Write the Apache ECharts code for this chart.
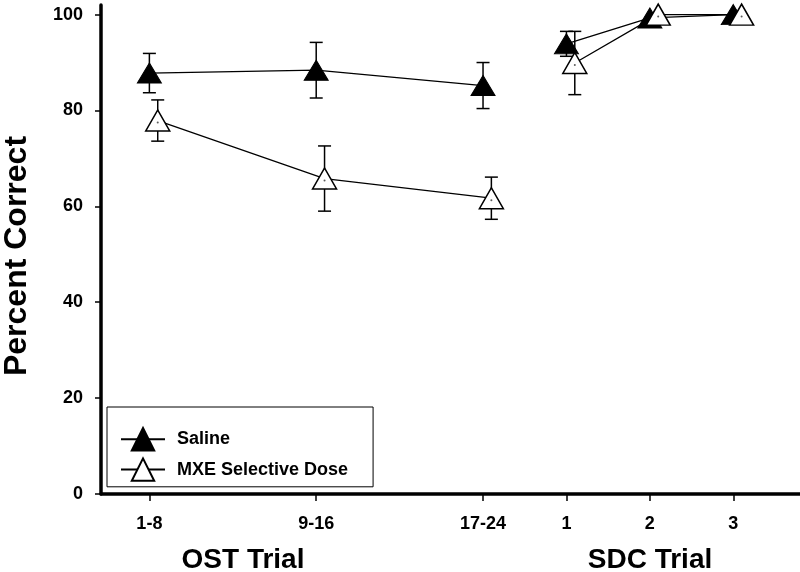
<!DOCTYPE html>
<html><head><meta charset="utf-8">
<script src="https://cdn.jsdelivr.net/npm/echarts@6/dist/echarts.min.js"></script>
<style>html,body{margin:0;padding:0;background:#fff}#c{width:800px;height:572px}</style>
</head><body><div id="c"></div>
<script>
// ---- data ----
const categories   = ['1-8', '9-16', '17-24', '1', '2', '3'];
const categoryPos  = [0, 2, 4, 5, 6, 7];
const phase        = ['OST', 'OST', 'OST', 'SDC', 'SDC', 'SDC'];
const phaseTitles  = ['OST Trial', 'SDC Trial'];
const seriesNames  = ['Saline', 'MXE Selective Dose'];
const salineMean   = [87.8, 88.4, 85.2, 93.9, 99.3, 100];
const salineSem    = [4.1, 5.8, 4.8, 2.6, 0, 0];
const mxeMean      = [77.9, 65.8, 61.7, 89.9, 100, 100];
const mxeSem       = [4.3, 6.8, 4.4, 6.6, 0, 0];
const yTicks       = [0, 20, 40, 60, 80, 100];

// ---- layout / style ----
const FONT = '"Liberation Sans", Arial, Helvetica, sans-serif';
const mxeShift = 0.1;

function lineData(means, shift) {
  const out = [];
  means.forEach((v, i) => {
    if (i > 0 && phase[i] !== phase[i - 1]) {
      out.push([(categoryPos[i - 1] + categoryPos[i]) / 2 + shift, '-']);
    }
    out.push([categoryPos[i] + shift, v]);
  });
  return out;
}
function errData(means, sems, shift) {
  return means.map((v, i) => [categoryPos[i] + shift, v - sems[i], v + sems[i], sems[i]]);
}
function renderErr(params, api) {
  const sem = api.value(3);
  if (!sem) return null;
  const x = api.value(0);
  const lo = api.coord([x, api.value(1)]);
  const hi = api.coord([x, api.value(2)]);
  const w = 6.5;
  const st = { stroke: '#000', lineWidth: 1.5 };
  return {
    type: 'group',
    children: [
      { type: 'line', shape: { x1: lo[0], y1: lo[1], x2: hi[0], y2: hi[1] }, style: st },
      { type: 'line', shape: { x1: lo[0] - w, y1: lo[1], x2: lo[0] + w, y2: lo[1] }, style: st },
      { type: 'line', shape: { x1: hi[0] - w, y1: hi[1], x2: hi[0] + w, y2: hi[1] }, style: st }
    ]
  };
}

const chart = echarts.init(document.getElementById('c'), null, { renderer: 'canvas' });
const option = {
  animation: false,
  backgroundColor: '#fff',
  grid: { left: 101, right: 0, top: 5, bottom: 78, containLabel: false, outerBoundsMode: 'none' },
  xAxis: {
    type: 'value', min: -0.58, max: 7.8,
    splitLine: { show: false },
    axisLine: { show: true, onZero: false, lineStyle: { color: '#000', width: 3.5 } },
    axisTick: { show: true, customValues: categoryPos, length: 7, lineStyle: { color: '#000', width: 1.5 } },
    axisLabel: {
      show: true, customValues: categoryPos, margin: 21,
      formatter: v => { const i = categoryPos.indexOf(v); return i >= 0 ? categories[i] : ''; },
      color: '#000', fontFamily: FONT, fontWeight: 'bold', fontSize: 18
    }
  },
  yAxis: {
    type: 'value', min: 0, max: 102,
    name: 'Percent Correct', nameLocation: 'middle', nameRotate: 90, nameGap: 68,
    nameTextStyle: { color: '#000', fontFamily: FONT, fontWeight: 'bold', fontSize: 32, padding: [0, 13, 0, 0] },
    splitLine: { show: false },
    axisLine: { show: true, onZero: false, lineStyle: { color: '#000', width: 3.5 } },
    axisTick: { show: true, customValues: yTicks, length: 6, lineStyle: { color: '#000', width: 1.5 } },
    axisLabel: {
      show: true, customValues: yTicks, margin: 18,
      color: '#000', fontFamily: FONT, fontWeight: 'bold', fontSize: 18
    }
  },
  legend: {
    orient: 'vertical', left: 107, top: 407,
    data: seriesNames,
    itemWidth: 44, itemHeight: 28, itemGap: 6,
    padding: [20, 25, 5, 13],
    borderColor: '#000', borderWidth: 1, borderRadius: 0,
    backgroundColor: '#fff',
    textStyle: { color: '#000', fontFamily: FONT, fontWeight: 'bold', fontSize: 18, padding: [0, 0, 0, 7] }
  },
  graphic: [
    { type: 'text', x: 243, y: 560, style: { text: phaseTitles[0], fill: '#000', font: 'bold 28px ' + FONT, align: 'center', verticalAlign: 'middle' } },
    { type: 'text', x: 650, y: 560, style: { text: phaseTitles[1], fill: '#000', font: 'bold 28px ' + FONT, align: 'center', verticalAlign: 'middle' } }
  ],
  series: [
    { type: 'custom', name: 'Saline SEM', z: 1, renderItem: renderErr, encode: { x: 0, y: [1, 2] }, data: errData(salineMean, salineSem, 0), silent: true },
    { type: 'custom', name: 'MXE SEM', z: 1, renderItem: renderErr, encode: { x: 0, y: [1, 2] }, data: errData(mxeMean, mxeSem, mxeShift), silent: true },
    {
      type: 'line', name: seriesNames[0], z: 2,
      data: lineData(salineMean, 0), connectNulls: false,
      symbol: 'triangle', symbolSize: [24, 20], showSymbol: true,
      lineStyle: { color: '#000', width: 1.3 },
      itemStyle: { color: '#000', borderColor: '#000', borderWidth: 1 }
    },
    {
      type: 'line', name: seriesNames[1], z: 3,
      data: lineData(mxeMean, mxeShift), connectNulls: false,
      symbol: 'triangle', symbolSize: [24, 21], showSymbol: true,
      lineStyle: { color: '#000', width: 1.3 },
      itemStyle: { color: '#fff', borderColor: '#000', borderWidth: 1.5 }
    },
    {
      type: 'scatter', name: 'MXE centre dot', z: 4, silent: true,
      data: mxeMean.map((v, i) => [categoryPos[i] + mxeShift, v]),
      symbol: 'circle', symbolSize: 2, symbolOffset: [0, 2],
      itemStyle: { color: '#333' }
    }
  ]
};
chart.setOption(option);
</script>
</body></html>
